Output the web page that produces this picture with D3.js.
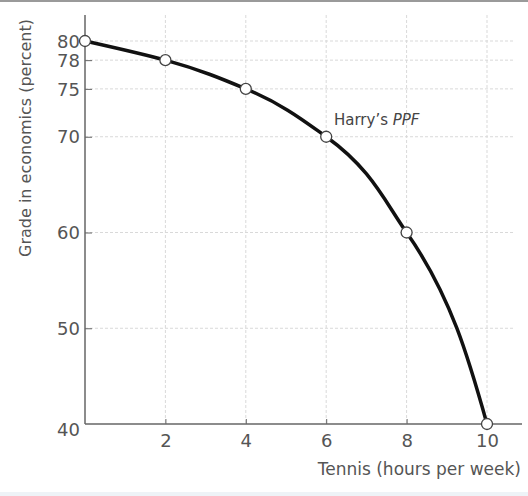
<!DOCTYPE html>
<html><head><meta charset="utf-8">
<script src="https://cdn.jsdelivr.net/npm/d3@7"></script>
<style>body{margin:0;background:#fff}svg{display:block}</style>
</head><body>
<script>
const tennisHours = [0, 2, 4, 6, 8, 10];
const grades = [80, 78, 75, 70, 60, 40];
const xTicks = [2, 4, 6, 8, 10];
const yTicks = [40, 50, 60, 70, 75, 78, 80];
const xLabel = "Tennis (hours per week)";
const yLabel = "Grade in economics (percent)";

const W = 528, H = 496;
const svg = d3.select("body").append("svg").attr("width", W).attr("height", H);
svg.append("rect").attr("x",0).attr("y",0).attr("width",W).attr("height",2).attr("fill","#9a9a9a");
svg.append("rect").attr("x",0).attr("y",492).attr("width",W).attr("height",4).attr("fill","#eef3f7");

const x = d3.scaleLinear().domain([0, 10]).range([85, 487]);
const y = d3.scaleLinear().domain([40, 80]).range([424, 41]);
const font = "'DejaVu Sans', Verdana, sans-serif";

// grid
const g = svg.append("g");
g.selectAll(".vg").data(xTicks).join("line")
  .attr("x1", d => x(d)).attr("x2", d => x(d)).attr("y1", 15).attr("y2", 424)
  .attr("stroke", "#d9d9d9").attr("stroke-width", 1).attr("stroke-dasharray", "3,2");
g.selectAll(".hg").data(yTicks.filter(d => d > 40)).join("line")
  .attr("x1", 85).attr("x2", 515).attr("y1", d => y(d)).attr("y2", d => y(d))
  .attr("stroke", "#d9d9d9").attr("stroke-width", 1).attr("stroke-dasharray", "3,2");

// axes
const xAxis = d3.axisBottom(x).tickValues(xTicks).tickSize(-5).tickPadding(10);
const ax = svg.append("g").attr("transform", "translate(0,424)").call(xAxis);
ax.select(".domain").remove();
ax.append("line").attr("x1", 85).attr("x2", 522).attr("stroke", "#666").attr("stroke-width", 1.5);
ax.selectAll(".tick line").attr("stroke", "#666");
ax.selectAll(".tick text").attr("font-family", font).attr("font-size", 18).attr("fill", "#555");

const yAxis = d3.axisLeft(y).tickValues(yTicks).tickSize(-7).tickPadding(5);
const ay = svg.append("g").attr("transform", "translate(85,0)").call(yAxis);
ay.select(".domain").remove();
ay.append("line").attr("y1", 15).attr("y2", 424).attr("stroke", "#666").attr("stroke-width", 1.5);
ay.selectAll(".tick line").attr("stroke", "#666");
ay.selectAll(".tick text").attr("font-family", font).attr("font-size", 18).attr("fill", "#555")
  .attr("dy", d => d === 40 ? "0.64em" : "0.34em");
ay.selectAll(".tick").filter(d => d === 40).select("line").remove();

// labels
svg.append("text").attr("x", 521).attr("y", 475).attr("text-anchor", "end")
  .attr("font-family", font).attr("font-size", 17).attr("fill", "#555").text(xLabel);
svg.append("text").attr("transform", "translate(31,138) rotate(-90)").attr("text-anchor", "middle")
  .attr("font-family", font).attr("font-size", 16).attr("fill", "#555").text(yLabel);

// curve
const pts = tennisHours.map((h, i) => [h, grades[i]]);
const line = d3.line().x(d => x(d[0])).y(d => y(d[1])).curve(d3.curveMonotoneY);
svg.append("path").datum(pts).attr("d", line).attr("fill", "none")
  .attr("stroke", "#111").attr("stroke-width", 3.5).attr("stroke-linejoin", "round");
svg.selectAll(".pt").data(pts).join("circle")
  .attr("cx", d => x(d[0])).attr("cy", d => y(d[1])).attr("r", 5.5)
  .attr("fill", "#fff").attr("stroke", "#444").attr("stroke-width", 1.3);

const t = svg.append("text").attr("x", 334).attr("y", 125)
  .attr("font-family", font).attr("font-size", 15).attr("fill", "#444");
t.append("tspan").text("Harry’s ");
t.append("tspan").attr("font-style", "italic").text("PPF");
</script>
</body></html>
